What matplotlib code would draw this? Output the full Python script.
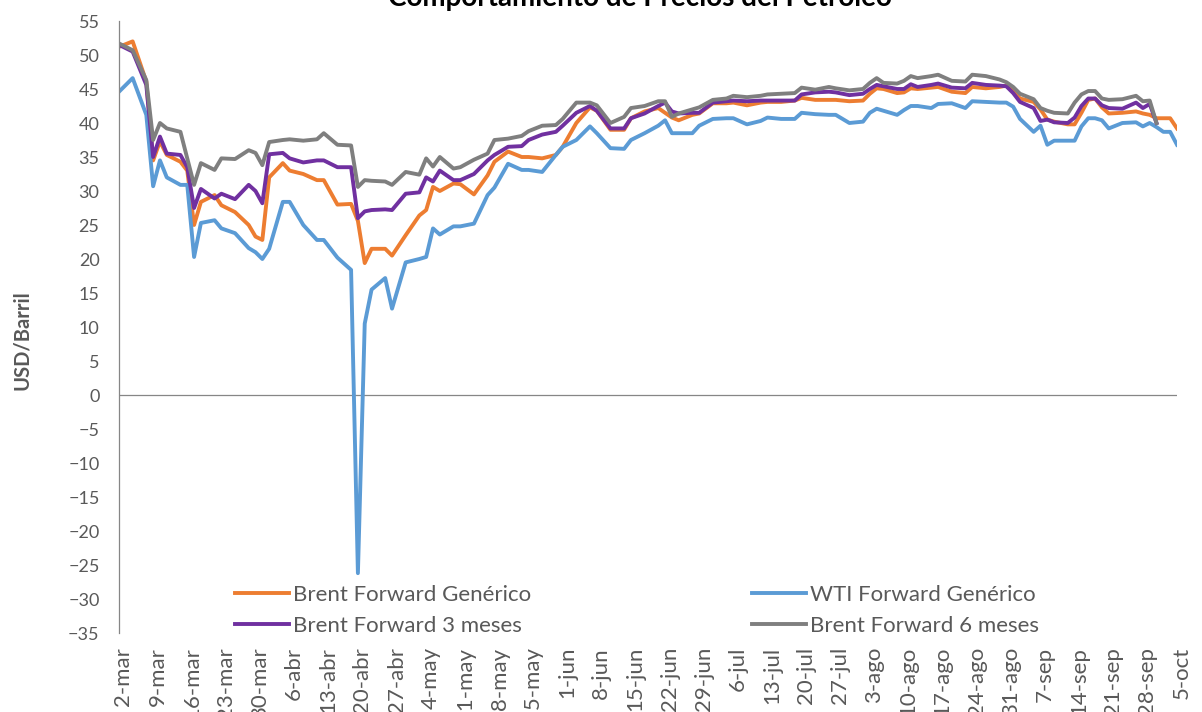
import numpy as np
import matplotlib.pyplot as plt
import matplotlib.transforms as mtransforms

# fechas (2020) y precios en USD/barril
fechas = [
    '03-02', '03-04', '03-06',
    '03-09', '03-10', '03-11', '03-13',
    '03-16', '03-17', '03-18', '03-20',
    '03-23', '03-25', '03-27',
    '03-30', '03-31', '04-01', '04-03',
    '04-06', '04-08', '04-10',
    '04-13', '04-15', '04-17',
    '04-20', '04-21', '04-22', '04-24',
    '04-27', '04-29', '05-01',
    '05-04', '05-05', '05-06', '05-08',
    '05-11', '05-13', '05-15',
    '05-18', '05-20', '05-22',
    '05-25', '05-27', '05-29',
    '06-01', '06-03', '06-05',
    '06-08', '06-10', '06-12',
    '06-15', '06-17', '06-19',
    '06-22', '06-23', '06-24', '06-26',
    '06-29', '07-01', '07-03',
    '07-06', '07-08', '07-10',
    '07-13', '07-15', '07-17',
    '07-20', '07-22', '07-24',
    '07-27', '07-29', '07-31',
    '08-03', '08-04', '08-05', '08-07',
    '08-10', '08-11', '08-12', '08-14',
    '08-17', '08-19', '08-21',
    '08-24', '08-26', '08-28',
    '08-31', '09-01', '09-02', '09-04',
    '09-07', '09-08', '09-09', '09-11',
    '09-14', '09-15', '09-16', '09-17', '09-18',
    '09-21', '09-23', '09-25',
    '09-28', '09-29', '09-30', '10-01', '10-02',
    '10-05',
]

nan = np.nan

brent_generico = [
    51.2, 52.0, 46.1,
    34.5, 37.3, 35.3, 34.3,
    33.0, 25.0, 28.4, 29.4,
    27.9, 26.9, 25.0,
    23.3, 22.8, 32.0, 34.1,
    33.0, 32.5, 31.6,
    31.6, 28.0, 28.1,
    25.6, 19.4, 21.5, 21.5,
    20.5, 23.5, 26.4,
    27.2, 30.6, 30.0, 31.1,
    31.0, 29.5, 32.3,
    34.3, 35.8, 35.0,
    35.0, 34.8, 35.3,
    36.5, 40.0, 42.3,
    41.8, 39.0, 39.0,
    40.7, 41.7, 42.2,
    41.5, 40.8, 40.4, 41.2,
    41.4, 42.9, 42.9,
    43.0, 42.6, 43.0,
    43.1, 43.1, 43.3,
    43.7, 43.4, 43.4,
    43.4, 43.2, 43.3,
    44.3, 45.1, 45.0, 44.4,
    44.5, 45.1, 45.0, 45.2,
    45.3, 44.6, 44.4,
    45.3, 45.1, 45.3,
    45.5, 44.8, 43.6, 43.1,
    42.0, 40.5, 40.2, 39.8,
    39.8, 41.5, 43.4, 43.6, 42.3,
    41.4, 41.5, 41.7,
    41.4, 41.2, 40.7, 40.7, 40.7,
    39.2,
]

wti_generico = [
    44.6, 46.6, 41.2,
    30.7, 34.5, 32.0, 30.9,
    30.9, 20.3, 25.3, 25.7,
    24.5, 23.8, 21.6,
    21.0, 20.0, 21.5, 28.4,
    28.4, 25.0, 22.8,
    22.8, 20.2, 18.4,
    -26.2, 10.5, 15.5, 17.2,
    12.7, 19.5, 20.0,
    20.3, 24.5, 23.6, 24.8,
    24.8, 25.2, 29.4,
    30.5, 34.0, 33.1,
    33.1, 32.8, 35.3,
    36.5, 37.5, 39.5,
    38.5, 36.3, 36.2,
    37.5, 38.5, 39.6,
    40.4, 38.5, 38.5, 38.5,
    39.6, 40.6, 40.7,
    40.7, 39.8, 40.3,
    40.8, 40.6, 40.6,
    41.5, 41.3, 41.2,
    41.2, 40.0, 40.2,
    41.5, 42.1, 41.8, 41.2,
    41.9, 42.5, 42.5, 42.2,
    42.8, 42.9, 42.2,
    43.2, 43.1, 43.0,
    43.0, 42.4, 40.6, 38.7,
    39.6, 36.8, 37.4, 37.4,
    37.4, 39.5, 40.7, 40.7, 40.4,
    39.2, 40.0, 40.1,
    39.5, 40.0, 39.4, 38.7, 38.7,
    36.8,
]

brent_3m = [
    51.5, 50.5, 45.6,
    35.0, 38.0, 35.5, 35.3,
    33.5, 27.5, 30.3, 28.9,
    29.6, 28.8, 30.9,
    30.0, 28.2, 35.4, 35.6,
    34.8, 34.2, 34.5,
    34.5, 33.5, 33.5,
    26.0, 27.0, 27.2, 27.3,
    27.2, 29.6, 29.8,
    32.0, 31.4, 33.0, 31.6,
    31.6, 32.5, 34.5,
    35.3, 36.5, 36.6,
    37.5, 38.3, 38.7,
    39.6, 41.5, 42.5,
    41.8, 39.2, 39.2,
    40.7, 41.4, 42.5,
    43.0, 41.7, 41.4, 41.5,
    41.5, 43.0, 43.2,
    43.3, 43.2, 43.3,
    43.3, 43.3, 43.3,
    44.2, 44.5, 44.6,
    44.5, 44.1, 44.3,
    45.0, 45.6, 45.4, 45.0,
    45.0, 45.7, 45.3, 45.6,
    45.8, 45.2, 45.1,
    45.9, 45.6, 45.5,
    45.4, 44.4, 43.1, 42.2,
    40.3, 40.5, 40.1, 40.0,
    40.8, 42.5, 43.6, 43.6, 42.6,
    42.2, 42.1, 43.0,
    42.2, 42.8, 40.0, nan, nan,
    nan,
]

brent_6m = [
    51.7, 50.7, 46.3,
    37.5, 40.0, 39.2, 38.7,
    34.8, 30.9, 34.1, 33.1,
    34.8, 34.7, 36.0,
    35.6, 33.8, 37.2, 37.5,
    37.6, 37.4, 37.6,
    38.5, 36.8, 36.7,
    30.6, 31.6, 31.5, 31.4,
    30.9, 32.8, 32.4,
    34.8, 33.6, 35.0, 33.3,
    33.5, 34.6, 35.5,
    37.5, 37.7, 38.1,
    38.8, 39.6, 39.7,
    40.6, 43.0, 43.0,
    42.6, 40.0, 40.9,
    42.2, 42.5, 43.2,
    43.2, 40.9, 41.4, 42.0,
    42.3, 43.4, 43.6,
    44.0, 43.8, 44.0,
    44.2, 44.3, 44.4,
    45.2, 44.9, 45.3,
    45.1, 44.8, 45.0,
    45.9, 46.6, 45.9, 45.8,
    46.2, 46.9, 46.6, 46.9,
    47.1, 46.2, 46.1,
    47.1, 46.9, 46.4,
    46.0, 45.3, 44.3, 43.5,
    42.2, 41.8, 41.5, 41.4,
    43.0, 44.2, 44.7, 44.7, 43.6,
    43.4, 43.5, 44.0,
    43.2, 43.3, 40.0, nan, nan,
    nan,
]

meses = {3: 'mar', 4: 'abr', 5: 'may', 6: 'jun', 7: 'jul', 8: 'ago', 9: 'sep', 10: 'oct'}

plt.rcParams['font.family'] = ['Lato', 'DejaVu Sans']
gris_texto = '#595959'

# eje de categorias: dias habiles desde el 2 de marzo
inicio = np.datetime64('2020-03-02')
dias = np.array(['2020-' + f for f in fechas], dtype='datetime64[D]')
x = np.busday_count(inicio, dias)

lunes = np.arange(inicio, np.datetime64('2020-10-06'), 7)
x_ticks = np.busday_count(inicio, lunes)
etiquetas = []
for d in lunes.astype(object):
    etiquetas.append(f'{d.day}-{meses[d.month]}')

fig = plt.figure(figsize=(12.02, 7.12), dpi=100)
ax = fig.add_axes([119 / 1202, 1 - 633 / 712, (1177 - 119) / 1202, (633 - 21) / 712])

lw = 2.8
l1, = ax.plot(x, brent_generico, color='#ED7D31', lw=lw, label='Brent Forward Genérico')
l2, = ax.plot(x, wti_generico, color='#5B9BD5', lw=lw, label='WTI Forward Genérico')
l3, = ax.plot(x, brent_3m, color='#7030A0', lw=lw, label='Brent Forward 3 meses')
l4, = ax.plot(x, brent_6m, color='#7F7F7F', lw=lw, label='Brent Forward 6 meses')

ax.set_xlim(0, x_ticks[-1])
ax.set_ylim(-35, 55)
ax.set_yticks(np.arange(-35, 56, 5))
ax.set_xticks(x_ticks)
ax.set_xticklabels(etiquetas, rotation=90)

ax.axhline(0, color='#868686', lw=0.9, zorder=0)
for s in ['top', 'right', 'bottom']:
    ax.spines[s].set_visible(False)
ax.spines['left'].set_color('#868686')
ax.spines['left'].set_linewidth(0.9)

ax.tick_params(axis='y', length=0, pad=14, labelsize=13, labelcolor=gris_texto)
ax.tick_params(axis='x', length=0, pad=10, labelsize=16, labelcolor=gris_texto)

# las etiquetas del eje x quedan un poco a la derecha de cada marca
desplaza = mtransforms.ScaledTranslation(4.5 / 100, 0, fig.dpi_scale_trans)
for lab in ax.get_xticklabels():
    lab.set_transform(lab.get_transform() + desplaza)

fig.text(22 / 1202, 1 - 340 / 712, 'USD/Barril', rotation=90, ha='center', va='center',
         fontsize=14.5, fontweight='bold', color=gris_texto)
fig.text(640 / 1202, 1 - 6 / 712, 'Comportamiento de Precios del Petróleo', ha='center',
         va='baseline', fontsize=20, fontweight='bold', color='black')

estilo = dict(frameon=False, fontsize=16, labelcolor=gris_texto, handlelength=2.45,
              handletextpad=0.15, labelspacing=0.5, borderpad=0, borderaxespad=0,
              loc='upper left', bbox_transform=fig.transFigure)
leg1 = ax.legend(handles=[l1, l3], bbox_to_anchor=(235 / 1202, 1 - 585 / 712), **estilo)
ax.add_artist(leg1)
ax.legend(handles=[l2, l4], bbox_to_anchor=(752 / 1202, 1 - 585 / 712), **estilo)

fig.savefig('out.png', dpi=100)
